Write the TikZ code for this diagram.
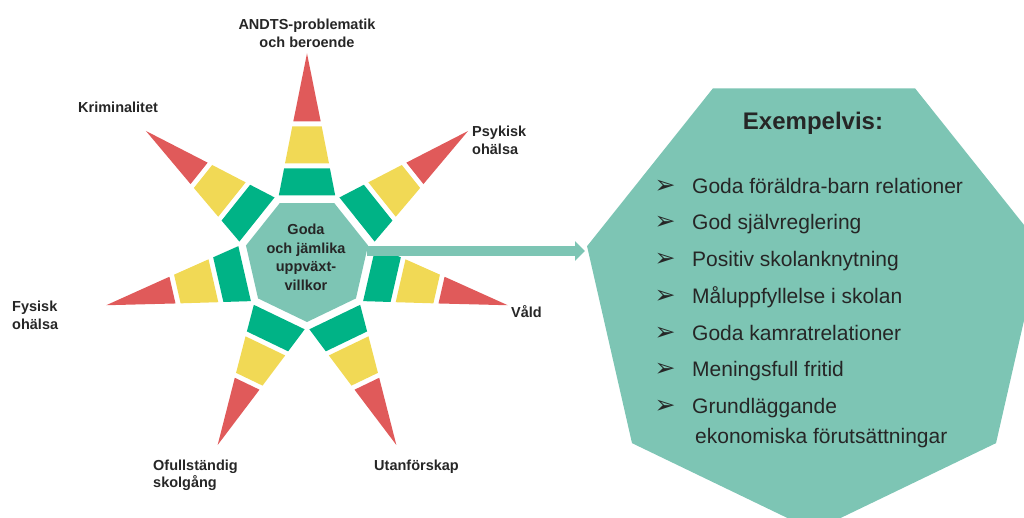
\documentclass[tikz,border=0pt]{standalone}
\usepackage{fontspec}
\setmainfont{Liberation Sans}
\newfontfamily\symfont{DejaVu Sans}
\usetikzlibrary{shapes.geometric,arrows.meta}

\definecolor{hubteal}{HTML}{7DC5B4}
\definecolor{raygreen}{HTML}{00B386}
\definecolor{rayyellow}{HTML}{F1D955}
\definecolor{rayred}{HTML}{E05A5A}
\definecolor{inkgray}{HTML}{262626}

\begin{document}
\begin{tikzpicture}[x=1pt,y=-1pt,
	lbl/.style={inner sep=0,anchor=base west,text=inkgray,font=\bfseries\fontsize{14.5}{16}\selectfont},
	item/.style={inner sep=0,anchor=base west,text=inkgray,font=\fontsize{21}{24}\selectfont},
	bul/.style={inner sep=0,anchor=base,text=inkgray,font=\symfont\fontsize{25}{28}\selectfont}]
				\useasboundingbox (0,0) rectangle (1024,518);
				\clip (0,0) rectangle (1024,518);
				
				% big heptagon to the right
				\node[regular polygon, regular polygon sides=7, shape border rotate=180,
					minimum size=465.6pt, inner sep=0, fill=hubteal] (ex) at (814,298) {};
				
				% hub
				\node[regular polygon, regular polygon sides=7, shape border rotate=180,
					minimum size=125.2pt, inner sep=0, fill=hubteal] (hub) at (307,259.4) {};
				\node[align=center, inner sep=0, text=inkgray,
					font=\bfseries\fontsize{14.5}{18.5}\selectfont] (hubtext) at (306,257.5)
					{Goda\\och jämlika\\uppväxt-\\villkor};
				
				% rays
				\begin{scope}[shift={(hub.center)}, rotate=90]
				\fill[raygreen] (64,-28.2) -- (64,28.2) -- (91,22.9) -- (91,-22.9) -- cycle;
				\fill[rayyellow] (96,-22) -- (96,22) -- (133,14.7) -- (133,-14.7) -- cycle;
				\fill[rayred] (138,-13.7) -- (138,13.7) -- (206,0) -- cycle;
				\end{scope}
				\begin{scope}[shift={(hub.center)}, rotate=38.57]
				\fill[raygreen] (64,-28.2) -- (64,28.2) -- (91,22.9) -- (91,-22.9) -- cycle;
				\fill[rayyellow] (96,-22) -- (96,22) -- (133,14.7) -- (133,-14.7) -- cycle;
				\fill[rayred] (138,-13.7) -- (138,13.7) -- (206,0) -- cycle;
				\end{scope}
				\begin{scope}[shift={(hub.center)}, rotate=-12.86]
				\fill[raygreen] (64,-28.2) -- (64,28.2) -- (91,22.9) -- (91,-22.9) -- cycle;
				\fill[rayyellow] (96,-22) -- (96,22) -- (133,14.7) -- (133,-14.7) -- cycle;
				\fill[rayred] (138,-13.7) -- (138,13.7) -- (206,0) -- cycle;
				\end{scope}
				\begin{scope}[shift={(hub.center)}, rotate=-64.29]
				\fill[raygreen] (64,-28.2) -- (64,28.2) -- (91,22.9) -- (91,-22.9) -- cycle;
				\fill[rayyellow] (96,-22) -- (96,22) -- (133,14.7) -- (133,-14.7) -- cycle;
				\fill[rayred] (138,-13.7) -- (138,13.7) -- (206,0) -- cycle;
				\end{scope}
				\begin{scope}[shift={(hub.center)}, rotate=-115.71]
				\fill[raygreen] (64,-28.2) -- (64,28.2) -- (91,22.9) -- (91,-22.9) -- cycle;
				\fill[rayyellow] (96,-22) -- (96,22) -- (133,14.7) -- (133,-14.7) -- cycle;
				\fill[rayred] (138,-13.7) -- (138,13.7) -- (206,0) -- cycle;
				\end{scope}
				\begin{scope}[shift={(hub.center)}, rotate=-167.14]
				\fill[raygreen] (64,-28.2) -- (64,28.2) -- (91,22.9) -- (91,-22.9) -- cycle;
				\fill[rayyellow] (96,-22) -- (96,22) -- (133,14.7) -- (133,-14.7) -- cycle;
				\fill[rayred] (138,-13.7) -- (138,13.7) -- (206,0) -- cycle;
				\end{scope}
				\begin{scope}[shift={(hub.center)}, rotate=141.43]
				\fill[raygreen] (64,-28.2) -- (64,28.2) -- (91,22.9) -- (91,-22.9) -- cycle;
				\fill[rayyellow] (96,-22) -- (96,22) -- (133,14.7) -- (133,-14.7) -- cycle;
				\fill[rayred] (138,-13.7) -- (138,13.7) -- (206,0) -- cycle;
				\end{scope}
				
				% ray labels
				\node[lbl, anchor=base] (andts1) at (307,30) {ANDTS-problematik};
				\node[lbl, anchor=base] (andts2) at (307,48) {och beroende};
				\node[lbl] (krim) at (78,113) {Kriminalitet};
				\node[lbl] (psyk1) at (472,136.7) {Psykisk};
				\node[lbl] (psyk2) at (472,154.3) {ohälsa};
				\node[lbl] (vald) at (511,317.3) {Våld};
				\node[lbl] (fys1) at (12,311.7) {Fysisk};
				\node[lbl] (fys2) at (12,329.3) {ohälsa};
				\node[lbl] (ofull1) at (153,470) {Ofullständig};
				\node[lbl] (ofull2) at (153,487.7) {skolgång};
				\node[lbl] (utan) at (374,470) {Utanförskap};
				
				% arrow hub -> examples
				\coordinate (arrstart) at (367,251);
				\coordinate (arrend) at (585,251);
				\draw[hubteal, line width=10pt, -{Triangle[length=10pt,width=19pt]}] (arrstart) -- (arrend);
				
				% examples
				\node[inner sep=0, anchor=base, text=inkgray, font=\bfseries\fontsize{24}{28}\selectfont] (title) at (813,129.3) {Exempelvis:};
				\node[bul] (b1) at (665,193.5) {➢};
				\node[item] (i1) at (692,193.5) {Goda föräldra-barn relationer};
				\node[bul] (b2) at (665,230) {➢};
				\node[item] (i2) at (692,230) {God självreglering};
				\node[bul] (b3) at (665,266.5) {➢};
				\node[item] (i3) at (692,266.5) {Positiv skolanknytning};
				\node[bul] (b4) at (665,303) {➢};
				\node[item] (i4) at (692,303) {Måluppfyllelse i skolan};
				\node[bul] (b5) at (665,340) {➢};
				\node[item] (i5) at (692,340) {Goda kamratrelationer};
				\node[bul] (b6) at (665,376.5) {➢};
				\node[item] (i6) at (692,376.5) {Meningsfull fritid};
				\node[bul] (b7) at (665,413) {➢};
				\node[item] (i7) at (692,413) {Grundläggande};
				\node[item] (i8) at (695,443.5) {ekonomiska förutsättningar};
				\end{tikzpicture}
\end{document}
